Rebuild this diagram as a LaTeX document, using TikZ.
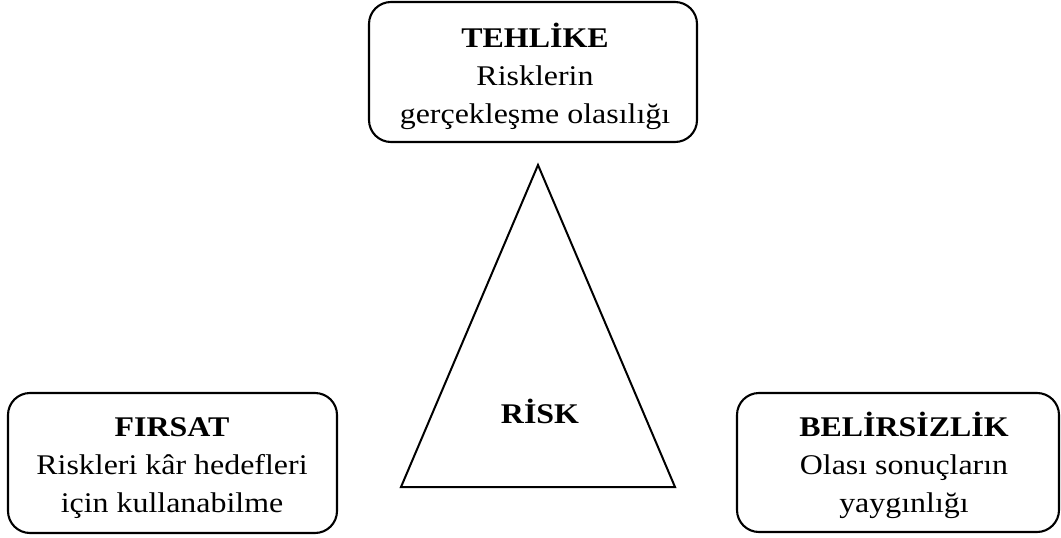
\documentclass[tikz,border=0pt]{standalone}
\usepackage{fontspec}
\setmainfont[FakeStretch=1.12]{Liberation Serif}
\begin{document}
\begin{tikzpicture}[x=1pt,y=-1pt,
  box/.style={draw, line width=2.1pt, rounded corners=22pt, inner sep=0pt},
  lbl/.style={align=center, font=\fontsize{28.5}{38}\selectfont, anchor=base, inner sep=0pt},
  tri/.style={draw, line width=2pt, line join=miter}
]
\useasboundingbox (0,0) rectangle (1061,538);
% boxes
\node[box, minimum width=328pt, minimum height=140pt] (tehbox) at (533,72) {};
\node[box, minimum width=329pt, minimum height=140pt] (firbox) at (172.5,463) {};
\node[box, minimum width=322pt, minimum height=139pt] (belbox) at (898,462.5) {};
% texts (anchor base = baseline of the last line)
\node[lbl] (teh) at (535,123) {\textbf{TEHLİKE}\\Risklerin\\gerçekleşme olasılığı};
\node[lbl] (fir) at (172,512) {\textbf{FIRSAT}\\Riskleri kâr hedefleri\\için kullanabilme};
\node[lbl] (bel) at (904,512) {\textbf{BELİRSİZLİK}\\Olası sonuçların\\yaygınlığı};
% triangle
\coordinate (apex) at (538,165);
\coordinate (bl) at (401,487);
\coordinate (br) at (675,487);
\draw[tri] (apex) -- (bl) -- (br) -- cycle;
\node[lbl] (risk) at (540,423) {\textbf{RİSK}};
\end{tikzpicture}
\end{document}
